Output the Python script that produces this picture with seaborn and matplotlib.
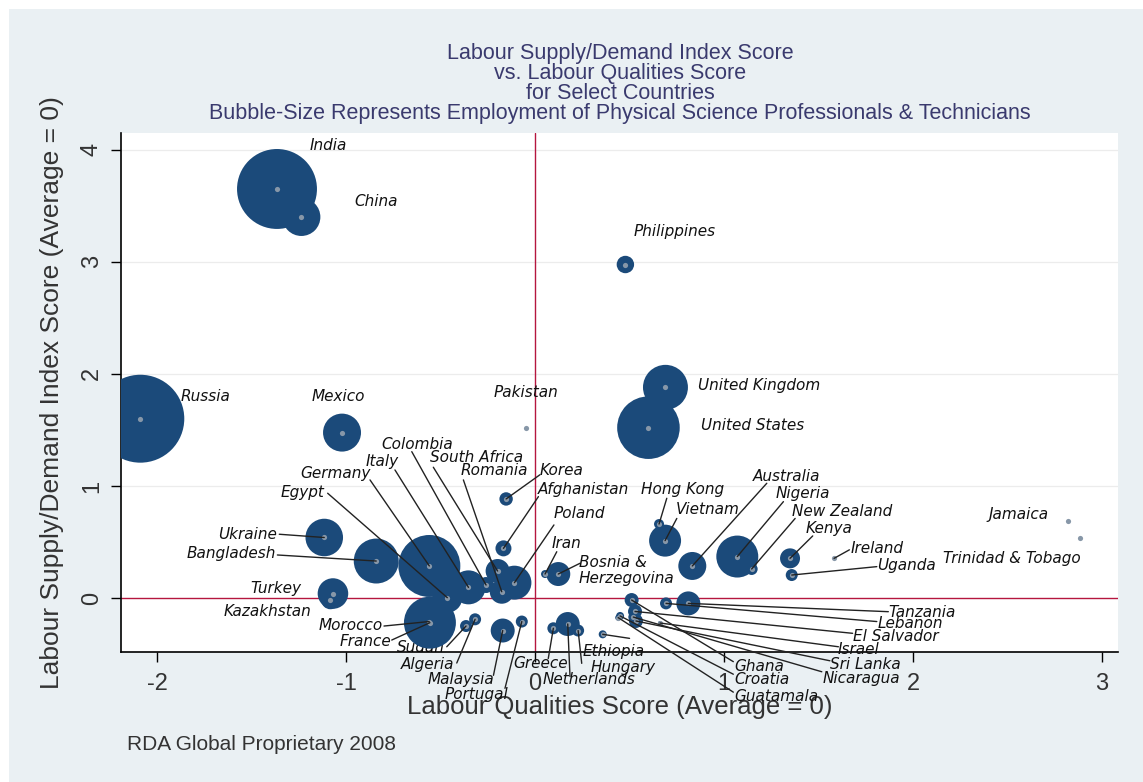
import pandas as pd
import seaborn as sns
import matplotlib.pyplot as plt
from matplotlib.patches import Rectangle

# ------------------------------------------------- #
# values
countries = ["India", "China", "Russia", "Mexico", "Pakistan", "Philippines",
             "United Kingdom", "United States", "Korea", "Afghanistan",
             "Ukraine", "Bangladesh", "Germany", "Egypt", "Italy", "Colombia",
             "South Africa", "Romania", "Poland", "Turkey", "Kazakhstan",
             "France", "Morocco", "Sudan", "Algeria", "Malaysia", "Portugal",
             "Iran", "Bosnia &\nHerzegovina", "Greece", "Netherlands", "Hungary",
             "Ethiopia", "Hong Kong", "Vietnam", "Australia", "Nigeria",
             "New Zealand", "Kenya", "Uganda", "Ireland", "Jamaica",
             "Trinidad & Tobago", "Tanzania", "Lebanon", "El Salvador",
             "Israel", "Sri Lanka", "Nicaragua", "Ghana", "Croatia", "Guatamala"]
quality = [-1.365, -1.236, -2.088, -1.021, -0.049, 0.478,
           0.69, 0.60, -0.153, -0.167,
           -1.115, -0.84, -0.559, -0.464, -0.352, -0.259,
           -0.198, -0.176, -0.109, -1.069, -1.083,
           -0.556, -0.56, -0.365, -0.317, -0.171, -0.07,
           0.053, 0.123, 0.097, 0.173, 0.228,
           0.358, 0.656, 0.688, 0.832, 1.07,
           1.146, 1.349, 1.358, 1.582, 2.82,
           2.885, 0.811, 0.693, 0.529,
           0.661, 0.534, 0.52, 0.511, 0.45, 0.44]
supply = [3.65, 3.40, 1.60, 1.476, 1.52, 2.976,
          1.88, 1.52, 0.884, 0.443,
          0.54, 0.33, 0.286, 0.003, 0.095, 0.116,
          0.241, 0.056, 0.137, 0.04, -0.02,
          -0.22, -0.21, -0.25, -0.19, -0.29, -0.21,
          0.214, 0.214, -0.27, -0.232, -0.29,
          -0.324, 0.66, 0.512, 0.286, 0.37,
          0.259, 0.354, 0.205, 0.354, 0.69,
          0.536, -0.048, -0.048, -0.12,
          -0.223, -0.205, -0.17, -0.018, -0.16, -0.175]
# employment of physical science professionals & technicians (relative, bubble area)
employment = [1600, 361, 1936, 361, 0, 76,
              506, 980, 45, 64,
              353, 506, 961, 225, 289, 64,
              144, 144, 289, 234, 81,
              676, 36, 36, 36, 144, 36,
              16, 144, 36, 144, 36,
              16, 25, 256, 196, 441,
              36, 100, 36, 0, 0,
              0, 144, 36, 49,
              4, 49, 25, 49, 16, 9]
x_ticks = [-2, -1, 0, 1, 2, 3]
y_ticks = [0, 1, 2, 3, 4]
# ------------------------------------------------- #

# label placement: name -> (x, y, ha, start of leader line or None)
label_pos = {
    "India": (-1.19, 4.04, "left", None),
    "China": (-0.958, 3.54, "left", None),
    "Russia": (-1.873, 1.80, "left", None),
    "Mexico": (-1.18, 1.80, "left", None),
    "Pakistan": (-0.217, 1.83, "left", None),
    "Philippines": (0.524, 3.27, "left", None),
    "United Kingdom": (0.862, 1.90, "left", None),
    "United States": (0.878, 1.536, "left", None),
    "Colombia": (-0.815, 1.366, "left", (-0.652, 1.306)),
    "Italy": (-0.894, 1.22, "left", (-0.741, 1.143)),
    "South Africa": (-0.556, 1.25, "left", (-0.538, 1.167)),
    "Romania": (-0.392, 1.134, "left", (-0.379, 1.054)),
    "Korea": (0.026, 1.134, "left", (0.026, 1.10)),
    "Germany": (-1.243, 1.107, "left", (-0.873, 1.054)),
    "Egypt": (-1.344, 0.946, "left", (-1.097, 0.935)),
    "Afghanistan": (0.016, 0.964, "left", (0.018, 0.905)),
    "Hong Kong": (0.561, 0.964, "left", (0.697, 0.89)),
    "Australia": (1.153, 1.08, "left", (1.226, 1.024)),
    "Nigeria": (1.275, 0.93, "left", (1.314, 0.86)),
    "Poland": (0.10, 0.75, "left", (0.10, 0.652)),
    "Vietnam": (0.746, 0.786, "left", (0.75, 0.71)),
    "New Zealand": (1.36, 0.768, "left", (1.376, 0.71)),
    "Kenya": (1.43, 0.616, "left", (1.469, 0.554)),
    "Jamaica": (2.40, 0.741, "left", None),
    "Ukraine": (-1.365, 0.571, "right", (-1.353, 0.569)),
    "Iran": (0.09, 0.482, "left", (0.115, 0.413)),
    "Ireland": (1.672, 0.446, "left", (1.663, 0.43)),
    "Bosnia &\nHerzegovina": (0.233, 0.245, "left", (0.238, 0.31)),
    "Bangladesh": (-1.37, 0.40, "right", (-1.363, 0.384)),
    "Trinidad & Tobago": (2.16, 0.357, "left", None),
    "Uganda": (1.81, 0.286, "left", (1.808, 0.28)),
    "Turkey": (-1.508, 0.089, "left", None),
    "Kazakhstan": (-1.185, -0.116, "right", None),
    "Tanzania": (1.868, -0.125, "left", (1.869, -0.122)),
    "Lebanon": (1.81, -0.223, "left", (1.808, -0.21)),
    "Morocco": (-0.804, -0.241, "right", (-0.799, -0.25)),
    "El Salvador": (1.683, -0.34, "left", (1.68, -0.315)),
    "France": (-0.762, -0.384, "right", (-0.758, -0.375)),
    "Sudan": (-0.73, -0.44, "left", (-0.467, -0.435)),
    "Israel": (1.60, -0.455, "left", (1.605, -0.435)),
    "Algeria": (-0.429, -0.59, "right", (-0.414, -0.58)),
    "Greece": (-0.116, -0.58, "left", (0.07, -0.54)),
    "Ethiopia": (0.254, -0.473, "left", (0.50, -0.36)),
    "Hungary": (0.296, -0.616, "left", (0.247, -0.583)),
    "Ghana": (1.053, -0.607, "left", (1.049, -0.568)),
    "Sri Lanka": (1.56, -0.59, "left", (1.56, -0.56)),
    "Malaysia": (-0.217, -0.73, "right", (-0.22, -0.69)),
    "Netherlands": (0.042, -0.73, "left", (0.185, -0.70)),
    "Croatia": (1.053, -0.73, "left", (1.049, -0.68)),
    "Nicaragua": (1.52, -0.72, "left", (1.517, -0.658)),
    "Portugal": (-0.143, -0.857, "right", (-0.159, -0.806)),
    "Guatamala": (1.053, -0.875, "left", (1.049, -0.84)),
}

df = pd.DataFrame({"country": countries, "quality": quality,
                   "supply": supply, "employment": employment})

navy = "#1b4a7a"
sns.set_style("white")
plt.rcParams["font.family"] = ["Liberation Sans", "DejaVu Sans"]
plt.rcParams["axes.unicode_minus"] = False

fig = plt.figure(figsize=(11.43, 7.82), dpi=100, facecolor="white")
fig.patches.append(Rectangle((0.008, 0.0), 0.992, 0.988, transform=fig.transFigure,
                             facecolor="#eaf0f3", edgecolor="none", zorder=-10))
ax = fig.add_axes([0.1059, 0.1662, 0.8724, 0.6638])
ax.set_facecolor("white")

# bubbles, area proportional to employment
vmax = max(employment)
sns.scatterplot(data=df, x="quality", y="supply", size="employment",
                sizes=(0, 2.07 * vmax), size_norm=(0, vmax), color=navy,
                linewidth=0, alpha=1, legend=False, ax=ax, zorder=3)
# centre dots
sns.scatterplot(data=df, x="quality", y="supply", s=14, color="#8797a8",
                linewidth=0, legend=False, ax=ax, zorder=4)

ax.axvline(0, color="#b5163f", lw=1.0, zorder=2)
ax.axhline(0, color="#b5163f", lw=1.0, zorder=2)
for yv in y_ticks[1:]:
    ax.axhline(yv, color="#ececec", lw=0.9, zorder=1)

# country labels with leader lines
for name, qx, sy in zip(countries, quality, supply):
    lx, ly, ha, start = label_pos[name]
    z = 2.5 if name == "Sudan" else 6
    if start is not None:
        ax.plot([start[0], qx], [start[1], sy], color="#222222", lw=1.0,
                zorder=5, clip_on=False)
    ax.text(lx, ly, name, ha=ha, va="center", fontsize=11, style="italic",
            family="DejaVu Sans", color="#111111", zorder=z, clip_on=False,
            linespacing=1.1)

ax.set_xlim(-2.19, 3.085)
ax.set_ylim(-0.482, 4.15)
ax.set_xticks(x_ticks)
ax.set_yticks(y_ticks)
ax.tick_params(axis="both", direction="out", length=7, width=1, color="black",
               labelsize=17, labelcolor="#333333", left=True, bottom=True)
ax.tick_params(axis="x", pad=8)
ax.tick_params(axis="y", pad=6)
plt.setp(ax.get_yticklabels(), rotation=90, va="center")
for s in ["top", "right"]:
    ax.spines[s].set_visible(False)
for s in ["left", "bottom"]:
    ax.spines[s].set_color("black")
    ax.spines[s].set_linewidth(1.2)

ax.set_xlabel("Labour Qualities Score (Average = 0)", fontsize=18.5,
              color="#333333", labelpad=0)
ax.set_ylabel("Labour Supply/Demand Index Score (Average = 0)", fontsize=19,
              color="#333333", labelpad=12)

title_lines = ["Labour Supply/Demand Index Score", "vs. Labour Qualities Score",
               "for Select Countries",
               "Bubble-Size Represents Employment of Physical Science Professionals & Technicians"]
for i, line in enumerate(title_lines):
    fig.text(0.5425, 1 - (53 + 20.2 * i) / 782, line, ha="center", va="center",
             fontsize=15.5, color="#3a3a6e")

fig.text(127 / 1143, 1 - 745 / 782, "RDA Global Proprietary 2008", ha="left",
         va="center", fontsize=15, color="#333333")

fig.savefig("out.png", dpi=100, facecolor=fig.get_facecolor())
